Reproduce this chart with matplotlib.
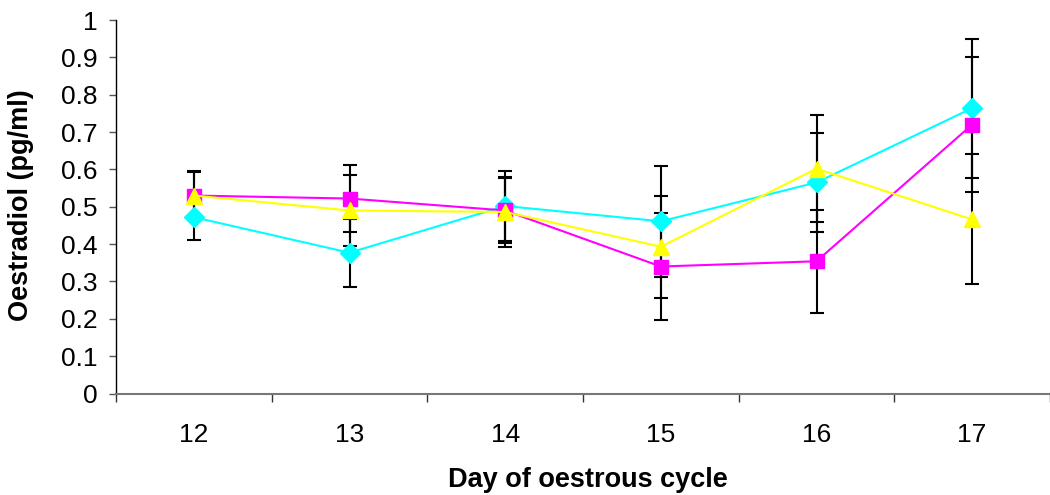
import matplotlib
matplotlib.use("Agg")
import matplotlib.pyplot as plt
import numpy as np

plt.rcParams['font.family'] = ['Liberation Sans', 'DejaVu Sans']

days = ["12", "13", "14", "15", "16", "17"]

cyan_vals = [0.472, 0.377, 0.502, 0.461, 0.565, 0.764]
cyan_err = [0.062, 0.091, 0.094, 0.148, 0.133, 0.186]

magenta_vals = [0.530, 0.522, 0.490, 0.340, 0.354, 0.720]
magenta_err = [0.066, 0.090, 0.088, 0.144, 0.138, 0.180]

yellow_vals = [0.530, 0.490, 0.486, 0.393, 0.602, 0.466]
yellow_err = [0.062, 0.094, 0.093, 0.136, 0.143, 0.174]

series = [
    (cyan_vals, cyan_err, "#00FFFF", "D", 10),
    (magenta_vals, magenta_err, "#FF00FF", "s", 10),
    (yellow_vals, yellow_err, "#FFFF00", "^", 11.5),
]

fig = plt.figure(figsize=(10.5, 4.95), dpi=100)
ax = fig.add_axes([116/1050, 101.5/495, 1 - 116/1050, 373.5/495])

x = np.arange(len(days))
for vals, errs, col, mk, ms in series:
    ax.errorbar(x, vals, yerr=errs, fmt='none', ecolor='black', elinewidth=1.5,
                capsize=5, capthick=1.5, zorder=1)
for vals, errs, col, mk, ms in series:
    ax.plot(x, vals, color=col, marker=mk, markersize=ms, linewidth=1.5,
            markeredgecolor=col, zorder=3, clip_on=False)

ax.set_xlim(-0.5, -0.5 + 934 / 157.3)
ax.set_ylim(0, 1)

ax.set_xticks(x)
ax.set_xticklabels(days)
ax.set_xticks(np.arange(-0.5, 5.6, 1.0), minor=True)
ax.tick_params(axis='x', which='major', length=0, pad=21, labelsize=19)
ax.tick_params(axis='x', which='minor', length=6, width=1.0, color='#333333', direction='out')

ax.set_yticks(np.arange(0, 1.01, 0.1))
ax.set_yticklabels(["0", "0.1", "0.2", "0.3", "0.4", "0.5", "0.6", "0.7", "0.8", "0.9", "1"])
ax.tick_params(axis='y', length=5, width=1.0, color='#555555', pad=8, labelsize=19)

for s in ['top', 'right']:
    ax.spines[s].set_visible(False)
ax.spines['left'].set_color('black')
ax.spines['left'].set_linewidth(1.0)
ax.spines['bottom'].set_color('#777777')
ax.spines['bottom'].set_linewidth(1.5)

ax.set_xlabel("Day of oestrous cycle", fontsize=19.5, fontweight='bold')
ax.xaxis.set_label_coords((588 - 116) / 934, -(480 - 393.5) / 373.5)
ax.xaxis.label.set_va('center')
ax.set_ylabel("Oestradiol (pg/ml)", fontsize=19.5, fontweight='bold')
ax.yaxis.set_label_coords((21 - 116) / 934, (393.5 - 205) / 373.5)
ax.yaxis.label.set_va('center')

fig.savefig("out.png", dpi=100)
